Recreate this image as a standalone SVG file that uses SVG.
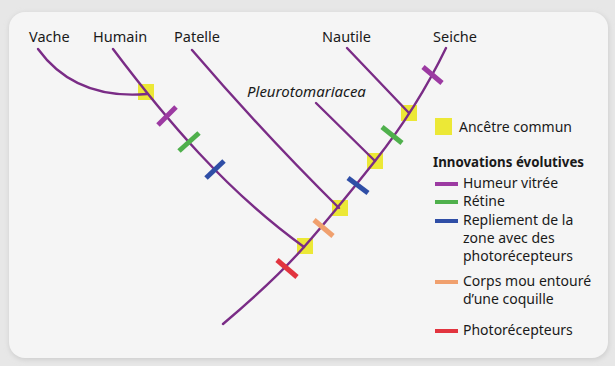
<svg xmlns="http://www.w3.org/2000/svg" width="615" height="366" viewBox="0 0 615 366">
  <defs>
    <filter id="shadow" x="-5%" y="-5%" width="110%" height="110%">
      <feGaussianBlur stdDeviation="2.5"/>
    </filter>
    <style>
      text { font-family: "Noto Sans", "DejaVu Sans", sans-serif; font-size: 14px; fill: #1a1a1a; }
      .top { font-size: 14.5px; }
      .it { font-style: italic; font-size: 15px; }
      .b { font-weight: bold; }
      .br { fill: none; stroke: #7a2c86; stroke-width: 2.4; stroke-linecap: round; }
      .anc { fill: #ece836; }
      .mk { stroke-width: 5; stroke-linecap: butt; }
      .pu { stroke: #9c3aa2; }
      .gr { stroke: #4fb04c; }
      .bl { stroke: #2f4ea6; }
      .or { stroke: #f0a06e; }
      .rd { stroke: #e2343f; }
    </style>
  </defs>

  <rect x="0" y="0" width="615" height="366" fill="#e7e7e7"/>
  <rect x="9" y="13" width="600" height="347" rx="16" fill="#cfcfcf" filter="url(#shadow)"/>
  <rect x="9" y="12" width="599" height="346" rx="16" fill="#f5f5f5"/>

  <g id="ancestors">
    <rect class="anc" x="138" y="84" width="16" height="16"/>
    <rect class="anc" x="297" y="238" width="16" height="16"/>
    <rect class="anc" x="332" y="200" width="16" height="16"/>
    <rect class="anc" x="367" y="153" width="16" height="16"/>
    <rect class="anc" x="401" y="105" width="16" height="16"/>
  </g>

  <g id="connectors">
    <path class="br" d="M223,324 Q275,280 304,247 T375,161 T446,48"/>
    <path class="br" d="M113,49 C165,118 225,190 304,247"/>
    <path class="br" d="M38,49 Q75,100 147,94"/>
    <path class="br" d="M192,50 Q265,135 339,208"/>
    <path class="br" d="M316,103 L375,161"/>
    <path class="br" d="M347,48 L409,113"/>
  </g>

  <g id="marks">
    <line class="mk pu" x1="158" y1="125" x2="176" y2="107"/>
    <line class="mk gr" x1="179" y1="151" x2="199" y2="133"/>
    <line class="mk bl" x1="206" y1="178" x2="224" y2="161"/>
    <line class="mk pu" x1="423" y1="67" x2="442" y2="83"/>
    <line class="mk gr" x1="382" y1="127" x2="402" y2="143"/>
    <line class="mk bl" x1="348" y1="178" x2="368" y2="193"/>
    <line class="mk or" x1="314" y1="220" x2="333" y2="236"/>
    <line class="mk rd" x1="277" y1="260" x2="297" y2="277"/>
  </g>

  <g id="taxa">
    <g id="vache"><text class="top" x="29" y="42">Vache</text></g>
    <g id="humain"><text class="top" x="93" y="42">Humain</text></g>
    <g id="patelle"><text class="top" x="174" y="42">Patelle</text></g>
    <g id="nautile"><text class="top" x="322" y="42">Nautile</text></g>
    <g id="seiche"><text class="top" x="433" y="42">Seiche</text></g>
    <g id="pleuro"><text class="it" x="247" y="97">Pleurotomariacea</text></g>
  </g>

  <g id="legend">
    <rect class="anc" x="435" y="118" width="17" height="17"/>
    <text x="459" y="132">Ancêtre commun</text>
    <text class="b" x="433" y="167" textLength="151" lengthAdjust="spacingAndGlyphs">Innovations évolutives</text>
    <line class="pu" stroke-width="4" x1="435" y1="184" x2="458" y2="184"/>
    <text x="463" y="188">Humeur vitrée</text>
    <line class="gr" stroke-width="4" x1="435" y1="202" x2="458" y2="202"/>
    <text x="463" y="206">Rétine</text>
    <line class="bl" stroke-width="4" x1="435" y1="221" x2="458" y2="221"/>
    <text x="463" y="225">Repliement de la</text>
    <text x="463" y="243">zone avec des</text>
    <text x="463" y="261">photorécepteurs</text>
    <line class="or" stroke-width="4" x1="435" y1="282" x2="458" y2="282"/>
    <text x="463" y="286">Corps mou entouré</text>
    <text x="463" y="304">d’une coquille</text>
    <line class="rd" stroke-width="4" x1="435" y1="331" x2="458" y2="331"/>
    <text x="463" y="335">Photorécepteurs</text>
  </g>
</svg>
